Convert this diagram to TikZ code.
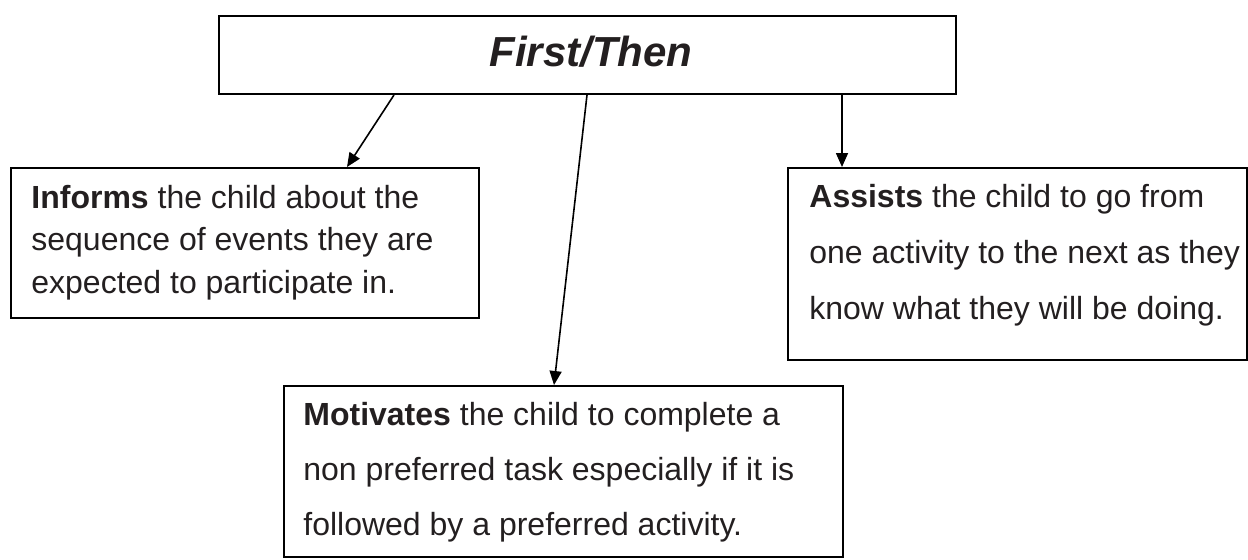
\documentclass[tikz,border=0pt]{standalone}
\usepackage{fontspec}
\setmainfont{Liberation Sans}
\usetikzlibrary{arrows.meta}
\definecolor{ink}{HTML}{231F20}
\begin{document}
\begin{tikzpicture}[x=0.5pt,y=-0.5pt,
  box/.style={draw=black, line width=1pt, rectangle, inner sep=0pt, anchor=north west},
  body/.style={anchor=base west, inner sep=0pt, text=ink},
  link/.style={draw=black, line width=0.8pt, -{Triangle[length=7pt,width=6pt]}}]
\useasboundingbox (0,0) rectangle (1248,559);

% boxes
\node[box, minimum width=368.5pt, minimum height=39pt] (first) at (218,15) {};
\node[box, minimum width=234pt, minimum height=75pt] (inform) at (10,167) {};
\node[box, minimum width=229.5pt, minimum height=96pt] (assist) at (787,167) {};
\node[box, minimum width=279.5pt, minimum height=85.5pt] (motiv) at (283,385) {};

% texts
\node[anchor=base, inner sep=0pt, text=ink, font=\fontsize{21}{25}\selectfont\bfseries\itshape] (title) at (591,66) {First/Then};

\node[body, font=\fontsize{16}{21.25}\selectfont] (informtext) at (31,208)
  {\begin{tabular}[t]{@{}l@{}}\textbf{Informs} the child about the\\ sequence of events they are\\ expected to participate in.\end{tabular}};

\node[body, font=\fontsize{16}{28}\selectfont] (assisttext) at (809,207)
  {\begin{tabular}[t]{@{}l@{}}\textbf{Assists} the child to go from\\ one activity to the next as they\\ know what they will be doing.\end{tabular}};

\node[body, font=\fontsize{16}{27.5}\selectfont] (motivtext) at (303,425)
  {\begin{tabular}[t]{@{}l@{}}\textbf{Motivates} the child to complete a\\ non preferred task especially if it is\\ followed by a preferred activity.\end{tabular}};

% connectors
\draw[link] ([xshift=88pt]first.south west) -- ([xshift=168.5pt]inform.north west);
\draw[link] ([xshift=184.5pt]first.south west) -- ([xshift=135.5pt]motiv.north west);
\draw[link] ([xshift=312pt]first.south west) -- ([xshift=27.5pt]assist.north west);
\end{tikzpicture}
\end{document}
